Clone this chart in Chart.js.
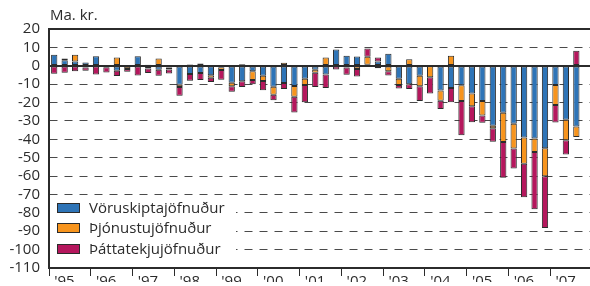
<!DOCTYPE html>
<html>
<head>
<meta charset="utf-8">
<script src="https://cdn.jsdelivr.net/npm/chart.js@4"></script>
<style>
  html, body { margin: 0; padding: 0; background: #fff; overflow: hidden; }
  #wrap { width: 592px; height: 286px; position: relative; }
  #wrap > * { position: absolute; left: 0; top: 0; width: 592px; height: 286px; }
  #over { pointer-events: none; }
</style>
</head>
<body>
<div id="wrap">
  <div id="box"><canvas id="myChart"></canvas></div>
  <canvas id="over" width="592" height="286"></canvas>
</div>
<script>
/*--------------------- Data ---------------------*/
const years = ["'95", "'96", "'97", "'98", "'99", "'00", "'01", "'02", "'03", "'04", "'05", "'06", "'07"];
const yTicks = [20, 10, 0, -10, -20, -30, -40, -50, -60, -70, -80, -90, -100, -110];

// quarterly, 1995 Q1 - 2007 Q3 (last slot of 2007 is empty)
const goodsBalance = [
  6, 3, 2.3, 1.8,  5.2, -0.8, -2.7, -0.5,  5.2, -1.5, -2.1, -1,
  -10.3, -4.5, -4, -5.2,  -0.8, -9.3, -8.4, -3,  -5.4, -11.4, -9.4, -11,
  -7.1, -2.1, -4.8, 8.8,  5.4, 5.1, 0.5, 2.3,  6.6, -7, -10, -5.4,
  -0.3, -13.5, -12.1, -10.6,  -15.1, -19.1, -32.6, -25.5,  -31.6, -39, -39.6, -44.9,
  -10.5, -29.4, -33, null
];
const servicesBalance = [
  0, 1, 3.7, -1,  0, 0, 4.5, -1.2,  0, 0.5, 4, -1,
  -1.3, 0.7, 1.2, -1.3,  -1.5, -1.8, 0.8, -4.7,  -2.9, -4.4, 1.7, -5.8,
  -3.4, -1.7, 4.5, 0,  -1, -1.8, 4.4, -1.4,  -3, -3.4, 3.6, -5.7,
  -5.9, -5.5, 5.4, -8.5,  -6.9, -8, -1.4, -16,  -13.4, -14.3, -7.3, -15.2,
  -10.9, -11.1, -5.7, null
];
const incomeBalance = [
  -4.3, -3.8, -3, -1.7,  -4.8, -2.9, -2.9, -1.5,  -5.3, -2.5, -3.3, -2.2,
  -4.7, -3.7, -3.7, -2.3,  -5.3, -3, -3.2, -2.4,  -5, -3, -3.3, -8.6,
  -9.4, -7.8, -7.3, -2,  -3.9, -4, 4.5, 2.2,  -2.3, -2, -2.7, -8.1,
  -8.9, -4.5, -7.7, -18.7,  -8.7, -3.9, -7.3, -19.4,  -10.9, -18.2, -31.2, -28.2,
  -9.4, -7.7, 8.2, null
];
const seriesNames = ['Vöruskiptajöfnuður', 'Þjónustujöfnuður', 'Þáttatekjujöfnuður'];
const seriesColors = ['#2e74b7', '#f7941d', '#b5175d'];

const quarterLabels = [];
years.forEach(y => quarterLabels.push(y, '', '', ''));

const FONT = '"Open Sans", "Noto Sans", sans-serif';
const INK = '#2b2b2b';
const GRID = '#4a4a4a';
const isSolid = v => v === 0 || v === yTicks[0] || v === yTicks[yTicks.length - 1];

/*--------------------- Overlay (zero line, frame, unit, legend) ---------------------*/
function pixelOf(chart, v) {
  let p = chart.scales.y.getPixelForValue(v);
  if (!(p >= 0 && p <= 300)) {
    const el = chart.getDatasetMeta(0).data[47];
    p = el.base + (el.y - el.base) * v / goodsBalance[47];
  }
  if (!(p >= 0 && p <= 300)) p = 29 + (20 - v) * 243 / 130;
  return Math.round(p);
}

const overlay = {
  id: 'overlay',
  afterDraw(chart) {
    let left = Math.round(chart.scales.x.left);
    if (!(left > 0 && left < 100)) left = 49;
    const right = 592;
    const top = pixelOf(chart, yTicks[0]);
    const bottom = pixelOf(chart, yTicks[yTicks.length - 1]);
    const y0 = pixelOf(chart, 0);

    const o = document.getElementById('over').getContext('2d');
    o.clearRect(0, 0, 592, 286);
    o.fillStyle = INK;
    o.fillRect(left, y0 - 1, right - left, 2);
    o.fillRect(left, top - 1, right - left, 2);
    o.fillRect(left, bottom - 1, right - left, 2);
    o.fillRect(left - 1, top - 1, 2, bottom - top + 2);

    o.font = '15px ' + FONT;
    o.textBaseline = 'alphabetic';
    o.fillText('Ma. kr.', left + 1, 20);

    // legend box hides the grid behind it
    o.fillStyle = '#fff';
    o.fillRect(left + 1, 200, 186, 64);
    o.textBaseline = 'middle';
    chart.data.datasets.forEach((ds, i) => {
      const cy = Math.round(207.5 + i * 20.5);
      o.fillStyle = INK;
      o.fillRect(57, cy - 5, 23, 10);
      o.fillStyle = ds.backgroundColor;
      o.fillRect(58, cy - 4, 21, 8);
      o.fillStyle = INK;
      o.fillText(ds.label, 89, cy + 1);
    });
  }
};

/*--------------------- Chart ---------------------*/
const makeSet = (i, data) => ({
  label: seriesNames[i],
  data: data,
  backgroundColor: seriesColors[i],
  borderColor: INK,
  borderWidth: 1,
  borderSkipped: false,
  stack: 'bop',
  categoryPercentage: 1,
  barPercentage: 0.6
});

const ctx = document.getElementById('myChart').getContext('2d');
new Chart(ctx, {
  type: 'bar',
  data: {
    labels: quarterLabels,
    datasets: [
      makeSet(0, goodsBalance),
      makeSet(1, servicesBalance),
      makeSet(2, incomeBalance)
    ]
  },
  options: {
    responsive: true,
    maintainAspectRatio: false,
    animation: false,
    layout: { padding: { top: 29, left: 0, right: 0, bottom: 0 } },
    plugins: {
      legend: { display: false },
      tooltip: { enabled: false }
    },
    scales: {
      x: {
        stacked: true,
        border: { display: true, color: INK, width: 1.5 },
        grid: {
          offset: true,
          drawOnChartArea: false,
          drawTicks: true,
          tickLength: 8,
          tickWidth: 1,
          tickColor: c => (c.index % 4 === 0 ? INK : 'rgba(0,0,0,0)')
        },
        ticks: {
          autoSkip: false,
          maxRotation: 0,
          minRotation: 0,
          align: 'start',
          padding: -3,
          color: INK,
          font: { family: FONT, size: 15 }
        },
        afterFit: s => { s.height = 14; }
      },
      y: {
        stacked: true,
        min: yTicks[yTicks.length - 1],
        max: yTicks[0],
        border: {
          display: true,
          color: INK,
          width: 1.5,
          dash: c => (c.tick && isSolid(c.tick.value) ? [] : [8, 7])
        },
        grid: {
          display: true,
          drawTicks: false,
          color: c => (c.tick && isSolid(c.tick.value) ? INK : GRID),
          lineWidth: c => (c.tick && isSolid(c.tick.value) ? 1.5 : 1)
        },
        ticks: {
          stepSize: 10,
          autoSkip: false,
          padding: 9,
          color: INK,
          font: { family: FONT, size: 15 }
        },
        afterFit: s => { s.width = 49; }
      }
    }
  },
  plugins: [overlay]
});
</script>
</body>
</html>
